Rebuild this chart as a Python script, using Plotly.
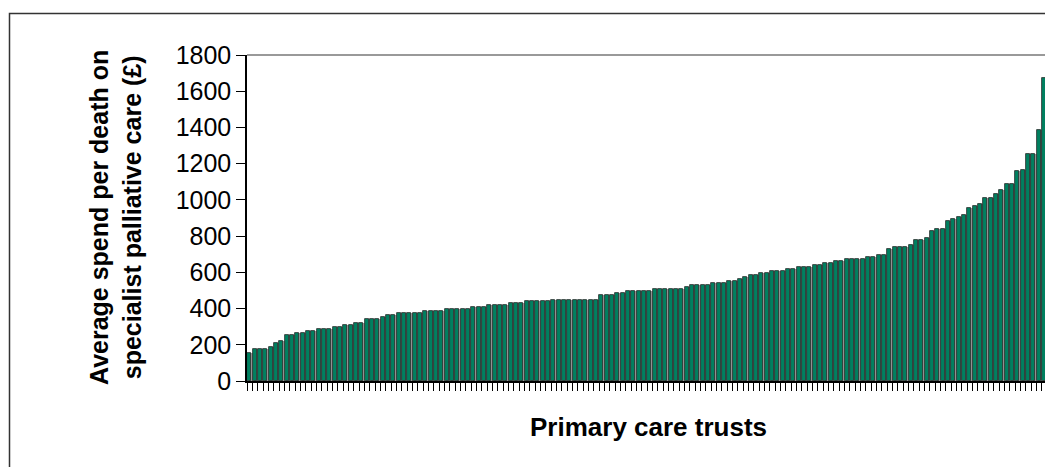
import plotly.graph_objects as go

# Average spend per death on specialist palliative care (GBP), one bar per primary care trust, sorted
spend = [
    156, 175, 175, 175, 186, 208, 219, 252, 252, 263, 263, 274, 274, 285, 285, 285, 296, 296, 307, 307,
    318, 318, 340, 340, 340,
    351, 362, 362, 373, 373, 373, 373, 373, 384, 384, 384, 384, 395, 395, 395, 395, 395, 406, 406, 406,
    417, 417, 417, 417, 428,
    428, 428, 439, 439, 439, 439, 439, 450, 450, 450, 450, 450, 450, 450, 450, 450, 473, 473, 473, 484,
    484, 495, 495, 495, 495,
    495, 506, 506, 506, 506, 506, 506, 517, 528, 528, 528, 528, 539, 539, 539, 550, 550, 561, 572, 583,
    583, 594, 594, 605, 605,
    605, 618, 618, 629, 629, 629, 640, 640, 651, 651, 662, 662, 673, 673, 673, 673, 684, 684, 695, 695,
    728, 739, 739, 739, 750,
    781, 781, 792, 826, 837, 837, 881, 892, 903, 914, 958, 969, 980, 1013, 1013, 1035, 1057, 1090, 1090,
    1157, 1167, 1256, 1256, 1388, 1675,
]
trusts = list(range(len(spend)))
y_ticks = [0, 200, 400, 600, 800, 1000, 1200, 1400, 1600, 1800]
y_title = "Average spend per death on<br>specialist palliative care (£)"
x_title = "Primary care trusts"

# page body has an 8px margin; work in figure coordinates = screen - 8
OFF = 8
W, H = 1053 - OFF, 467 - OFF
L = 247 - OFF
T = 55 - OFF
PB = 381 - OFF
PR = 1047 - OFF
R, B = W - PR, H - PB
pw, ph = PR - L, PB - T

def px_x(sx):
    return (sx - OFF - L) / pw

def px_y(sy):
    return (PB - (sy - OFF)) / ph

FONT = "Liberation Sans, Arial, sans-serif"

fig = go.Figure()
# shadow
fig.add_trace(go.Bar(
    x=trusts, y=spend, width=0.74, offset=-0.2,
    marker=dict(color="#9a9a9a", line=dict(width=0)),
    hoverinfo="skip", showlegend=False,
))
# main bars
fig.add_trace(go.Bar(
    x=trusts, y=spend, width=0.74, offset=-0.44,
    marker=dict(color="#008060", line=dict(color="#2a2a2a", width=0.8)),
    showlegend=False,
))

n = len(spend)
fig.update_layout(
    width=W, height=H,
    margin=dict(l=L, r=R, t=T, b=B),
    paper_bgcolor="white", plot_bgcolor="white",
    barmode="overlay", bargap=0,
    font=dict(family=FONT, color="black"),
    xaxis=dict(
        range=[-0.5, n - 0.5],
        tickmode="array", tickvals=[i - 0.5 for i in range(n + 1)],
        showticklabels=False, ticks="outside", ticklen=8, tickwidth=1, tickcolor="black",
        showline=True, linecolor="black", linewidth=1.5, showgrid=False, zeroline=False,
    ),
    yaxis=dict(
        range=[0, 1800], tickmode="array", tickvals=y_ticks,
        ticks="outside", ticklen=9, tickwidth=1, tickcolor="black",
        tickfont=dict(size=25, family=FONT),
        showline=True, linecolor="black", linewidth=1.5, showgrid=False, zeroline=False,
    ),
    shapes=[
        # plot area frame (top/right)
        dict(type="line", xref="paper", yref="paper", x0=0, x1=1, y0=1, y1=1,
             line=dict(color="#777777", width=1.5)),
        dict(type="line", xref="paper", yref="paper", x0=1, x1=1, y0=0, y1=1,
             line=dict(color="#777777", width=1.5)),
        # outer chart frame
        dict(type="rect", xref="paper", yref="paper",
             x0=px_x(9.5), x1=px_x(1075), y0=px_y(13.5), y1=px_y(490),
             line=dict(color="#333333", width=1.5)),
    ],
    annotations=[
        dict(text=y_title, xref="paper", yref="paper", x=px_x(115), y=px_y(218),
             textangle=-90, showarrow=False, xanchor="center", yanchor="middle",
             font=dict(size=25, family=FONT, weight="bold")),
        dict(text=x_title, xref="paper", yref="paper", x=px_x(648), y=px_y(427),
             showarrow=False, xanchor="center", yanchor="middle",
             font=dict(size=26, family=FONT, weight="bold")),
    ],
)

fig.write_html("out.html")
